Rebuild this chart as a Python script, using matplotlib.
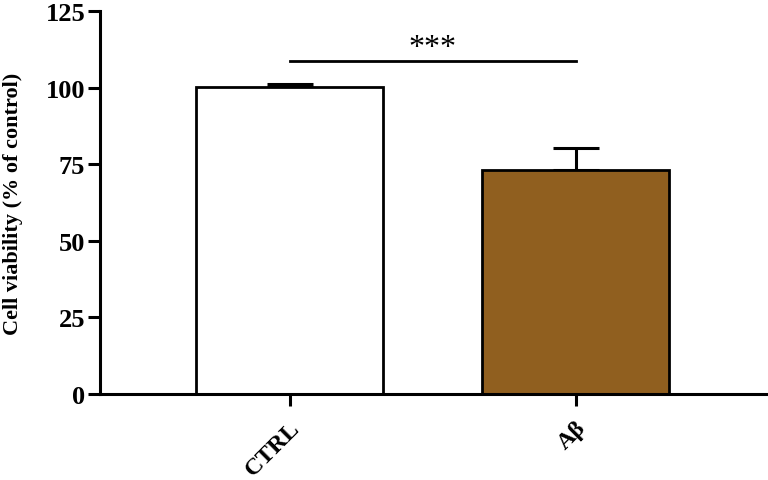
import matplotlib
matplotlib.use('Agg')
import matplotlib.pyplot as plt
import numpy as np

groups = ['CTRL', 'A\u03b2']
means = [100.2, 73.1]
sems = [1.1, 7.2]
bar_colors = ['white', '#905f1f']
sig_y = 108.7
sig_text = '***'

plt.rcParams['font.family'] = ['Liberation Serif', 'DejaVu Serif']

fig = plt.figure(figsize=(7.68, 4.81), dpi=100)
ax = fig.add_axes([0.130, 0.179, 0.867, 0.796])

x = np.arange(len(groups))
ax.bar(x, means, width=0.654, color=bar_colors, edgecolor='black', linewidth=2, zorder=2)
ax.errorbar(x, means, yerr=[np.zeros(len(sems)), sems], fmt='none', ecolor='black',
            elinewidth=2.2, capsize=16.5, capthick=2.2, zorder=1)

# significance bar
ax.plot([x[0], x[1]], [sig_y, sig_y], color='black', lw=2)
ax.text((x[0] + x[1]) / 2, sig_y - 0.5, sig_text, ha='center', va='bottom', fontsize=23)

ax.set_xlim(-0.664, 1.664)
ax.set_ylim(0, 125)
ax.set_yticks([0, 25, 50, 75, 100, 125])
ax.set_xticks(x)
ax.set_xticklabels(groups, rotation=45, ha='right', rotation_mode='anchor',
                   fontsize=17.5, fontweight='bold')
for lab in ax.get_yticklabels():
    lab.set_fontsize(19)
    lab.set_fontweight('bold')
ax.set_ylabel('Cell viability (% of control)', fontsize=16, fontweight='bold', labelpad=16)

for s in ['top', 'right']:
    ax.spines[s].set_visible(False)
for s in ['left', 'bottom']:
    ax.spines[s].set_linewidth(2.2)
ax.tick_params(axis='y', width=2.2, length=8.5, pad=2)
ax.tick_params(axis='x', width=2.2, length=8.5, pad=8)

fig.savefig('out.png', dpi=100)
